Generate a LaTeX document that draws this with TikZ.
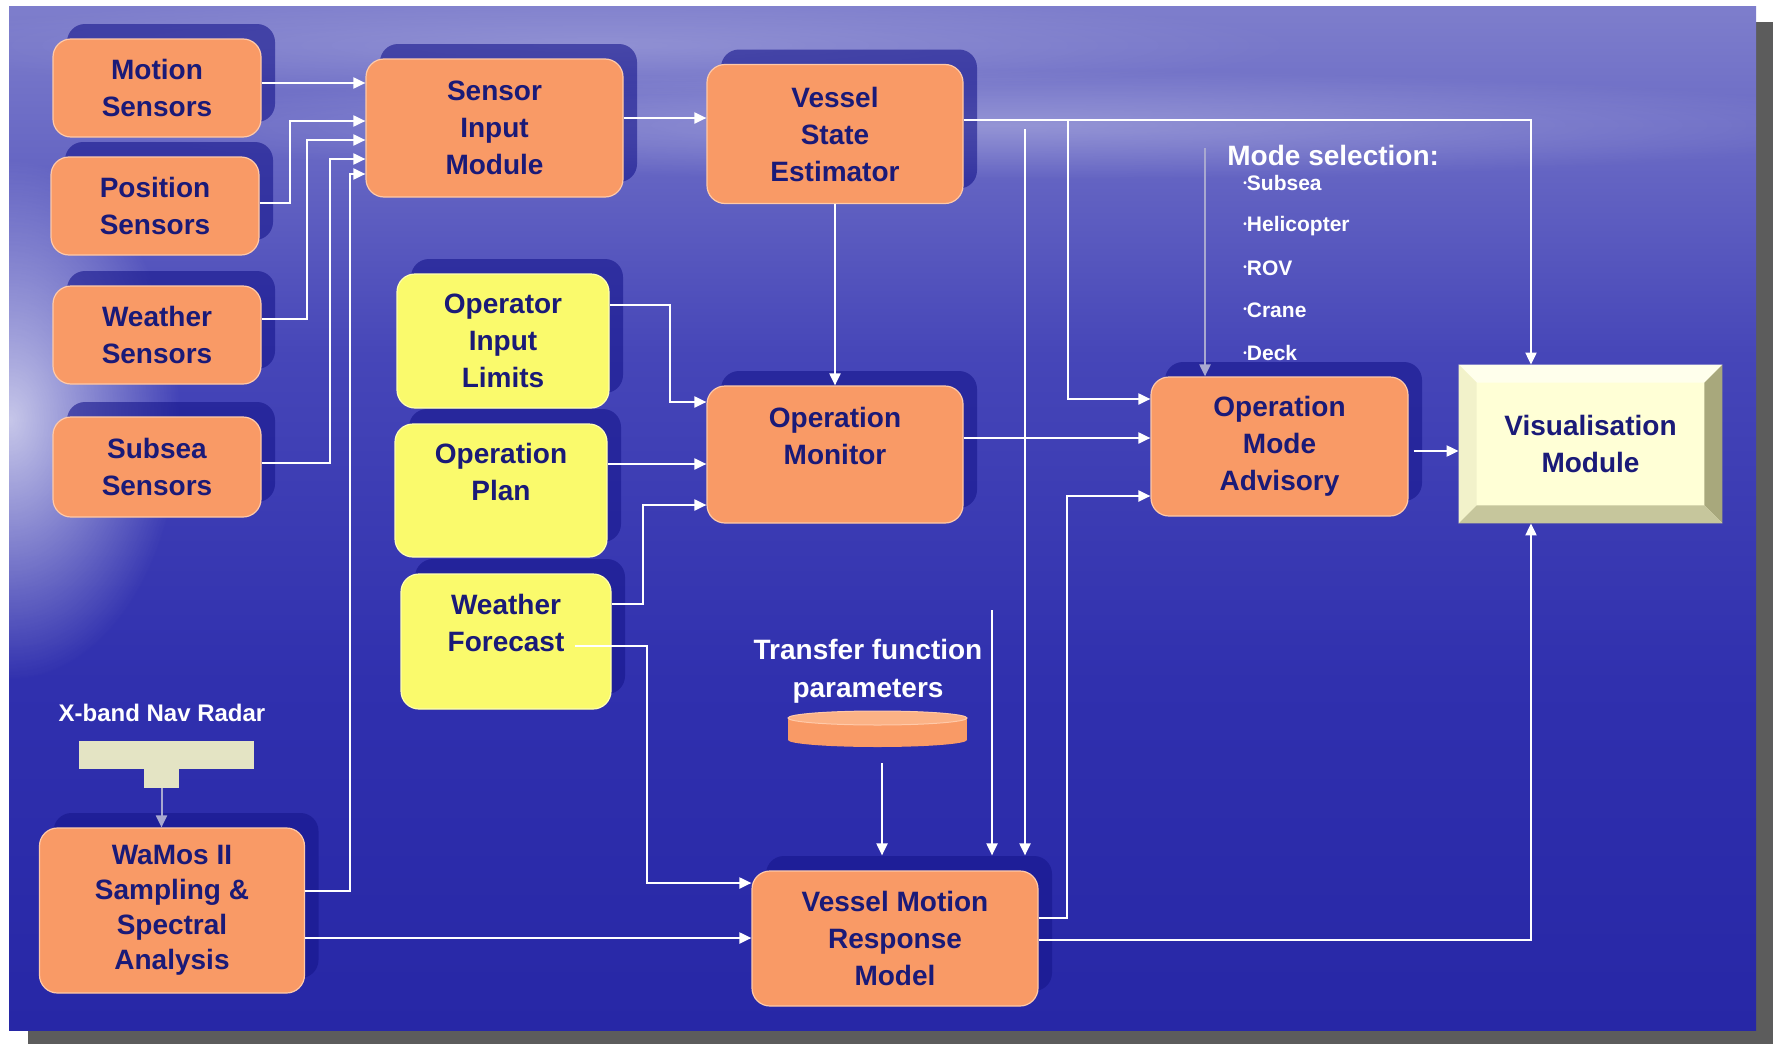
\documentclass[tikz,border=0pt]{standalone}
\usepackage{fontspec}
\setmainfont{Liberation Sans}
\usetikzlibrary{arrows.meta,shadows,fadings,calc}
\definecolor{boxor}{HTML}{F99A66}
\definecolor{boxedge}{HTML}{FFC9A8}
\definecolor{boxyel}{HTML}{FAFA6C}
\definecolor{yeledge}{HTML}{FFFFB0}
\definecolor{navytxt}{HTML}{1A1A78}
\definecolor{shblue}{HTML}{16168C}
\definecolor{bgA}{HTML}{2727A6}
\definecolor{bgB}{HTML}{3030AE}
\definecolor{bgC}{HTML}{4646B8}
\definecolor{bgD}{HTML}{6868C4}
\definecolor{bgE}{HTML}{7E7ECC}
\definecolor{framegray}{HTML}{5C5C5C}
\definecolor{visface}{HTML}{FFFFD6}
\definecolor{bevtop}{HTML}{FFFFEC}
\definecolor{bevleft}{HTML}{F2F2CA}
\definecolor{bevright}{HTML}{A8A87C}
\definecolor{bevbot}{HTML}{C6C69C}
\definecolor{radarcol}{HTML}{E4E4C4}
\definecolor{graylink}{HTML}{A8A8D0}
\definecolor{cyltop}{HTML}{FBB286}
\newcommand\nodefnt{\fontsize{14}{18.5}\selectfont\bfseries}
\newcommand\smallbul{\raisebox{2.2pt}{\fontsize{5}{5}\selectfont\textbullet}}
\tikzfading[name=softglow, inner color=transparent!0, outer color=transparent!100]
\pgfdeclareverticalshading{seabg}{100bp}{color(0bp)=(bgA); color(25bp)=(bgA); color(42bp)=(bgB); color(58bp)=(bgC); color(68bp)=(bgD); color(75bp)=(bgE); color(100bp)=(bgE)}
\begin{document}
\begin{tikzpicture}[x=0.5pt,y=-0.5pt,
  box/.style={draw=boxedge, line width=0.6pt, fill=boxor, rounded corners=9pt,
    text=navytxt, font=\nodefnt, align=center, inner sep=0pt,
    copy shadow={shadow xshift=7pt, shadow yshift=7.5pt, fill=shblue, draw=none, opacity=0.6}},
  ybox/.style={box, fill=boxyel, draw=yeledge},
  visbox/.style={fill=visface, text=navytxt, font=\nodefnt, align=center, inner sep=0pt},
  lbl/.style={text=white, font=\fontsize{14}{19}\selectfont\bfseries, align=center, inner sep=0pt},
  bul/.style={text=white, font=\fontsize{10.5}{12}\selectfont\bfseries, inner sep=0pt, anchor=west},
  link/.style={white, line width=1pt, -{Triangle[length=6pt,width=5.5pt]}},
  glink/.style={graylink, line width=1pt, -{Triangle[length=6pt,width=5.5pt]}}
]
\useasboundingbox (0,0) rectangle (1773,1044);
\fill[white] (0,0) rectangle (1773,1044);
% frame shadow and background
\fill[framegray] (28,22) rectangle (1773,1044);
\begin{scope}[y=0.5pt]
  \shade[shading=seabg] (9,-1030) rectangle (1756,-6);
\end{scope}
\begin{scope}
  \clip (9,6) rectangle (1756,1030);
  \fill[white, opacity=0.28, path fading=softglow] (1000,125) ellipse (900 and 55);
  \fill[white, opacity=0.18, path fading=softglow] (600,45) ellipse (700 and 50);
  \fill[white, opacity=0.7, path fading=softglow] (10,420) ellipse (170 and 260);
\end{scope}

% sensor boxes
\node[box, minimum width=104pt, minimum height=49pt] (motion) at (157,88) {Motion\\Sensors};
\node[box, minimum width=104pt, minimum height=49pt] (position) at (155,206) {Position\\Sensors};
\node[box, minimum width=104pt, minimum height=49pt] (weathers) at (157,335) {Weather\\Sensors};
\node[box, minimum width=104pt, minimum height=50pt] (subsea) at (157,467) {Subsea\\Sensors};
\node[box, minimum width=128.5pt, minimum height=69pt] (sim) at (494.5,128) {Sensor\\Input\\Module};
% yellow inputs
\node[ybox, minimum width=106pt, minimum height=67pt] (oil) at (503,341) {Operator\\Input\\Limits};
\node[ybox, minimum width=106pt, minimum height=66.5pt] (oplan) at (501,490.5) {Operation\\Plan\\\mbox{}};
\node[ybox, minimum width=105pt, minimum height=67.5pt] (wfc) at (506,641.5) {Weather\\Forecast\\\mbox{}};
% central blocks
\node[box, minimum width=128pt, minimum height=69.5pt] (vse) at (835,134) {Vessel\\State\\Estimator};
\node[box, minimum width=128pt, minimum height=68.5pt] (om) at (835,454.5) {Operation\\Monitor\\\mbox{}};
\node[box, minimum width=128.5pt, minimum height=69.5pt] (oma) at (1279.5,446.5) {Operation\\Mode\\Advisory};
\node[box, minimum width=143pt, minimum height=67.5pt] (vmrm) at (895,938.5) {Vessel Motion\\Response\\Model};
\node[box, minimum width=132.5pt, minimum height=82.5pt, font=\fontsize{14}{17.5}\selectfont\bfseries] (wamos) at (172,910.5) {WaMos II\\Sampling \&\\Spectral\\Analysis};

% visualisation module (bevelled)
\node[visbox, minimum width=131.5pt, minimum height=79pt] (vis) at (1590.5,444) {Visualisation\\Module};
\fill[bevtop] (vis.north west) -- (vis.north east) -- ($(vis.north east)+(-18,18)$) -- ($(vis.north west)+(18,18)$) -- cycle;
\fill[bevleft] (vis.north west) -- ($(vis.north west)+(18,18)$) -- ($(vis.south west)+(18,-18)$) -- (vis.south west) -- cycle;
\fill[bevright] (vis.north east) -- ($(vis.north east)+(-18,18)$) -- ($(vis.south east)+(-18,-18)$) -- (vis.south east) -- cycle;
\fill[bevbot] (vis.south west) -- ($(vis.south west)+(18,-18)$) -- ($(vis.south east)+(-18,-18)$) -- (vis.south east) -- cycle;

% radar
\node[lbl, font=\fontsize{12}{14}\selectfont\bfseries] (radarlbl) at (162,713) {X-band Nav Radar};
\node[fill=radarcol, minimum width=87.5pt, minimum height=14pt, inner sep=0pt] (radarbar) at (166.5,755) {};
\node[fill=radarcol, minimum width=17.5pt, minimum height=9.5pt, inner sep=0pt] (radarstem) at (161.5,778.5) {};

% transfer function parameters cylinder
\node[lbl] (tfp) at (868,671) {Transfer function\\parameters};
\node[inner sep=0pt, minimum width=89.5pt, minimum height=18pt] (cyl) at (877.5,729) {};
\fill[boxor] ($(cyl.west)+(0,-11)$) rectangle ($(cyl.east)+(0,11)$);
\fill[boxor] ($(cyl.center)+(0,11)$) ellipse (89.5 and 7);
\fill[cyltop, draw=boxedge, line width=0.5pt] ($(cyl.center)+(0,-11)$) ellipse (89.5 and 7);

% mode selection text
\node[lbl, anchor=west] (modesel) at (1227,155) {Mode selection:};
\node[bul] (m1) at (1243,183) {\smallbul Subsea};
\node[bul] (m2) at (1243,226) {\smallbul Helicopter};
\node[bul] (m3) at (1243,268) {\smallbul ROV};
\node[bul] (m4) at (1243,310) {\smallbul Crane};
\node[bul] (m5) at (1243,353) {\smallbul Deck};

\coordinate (vtop) at ($(vmrm.north)+(0,-15)$);
\coordinate (modestart) at (1205,148);
\coordinate (fromvse) at (1025,129);
\coordinate (extin) at (992,610);

% connectors into sensor input module
\draw[link] (motion.east |- 0,83) -- (sim.west |- 0,83);
\draw[link] (position.east |- 0,203) -- (290,203) -- (290,121) -- (sim.west |- 0,121);
\draw[link] (weathers.east |- 0,319) -- (307,319) -- (307,140) -- (sim.west |- 0,140);
\draw[link] (subsea.east |- 0,463) -- (330,463) -- (330,159) -- (sim.west |- 0,159);
\draw[link] (wamos.east |- 0,891) -- (350,891) -- (350,174) -- (sim.west |- 0,174);
% main chain
\draw[link] (sim.east |- 0,118) -- (vse.west |- 0,118);
\draw[link] (vse.south) -- (om.north);
\draw[link] (vse.east |- 0,120) -- (1531,120) -- (vis.north -| 1531,0);
\draw[link] (1068,120) -- (1068,399) -- (oma.west |- 0,399);
\draw[link] (fromvse) -- (vtop -| fromvse);
\draw[link] (extin) -- (vtop -| extin);
\draw[link] ($(cyl.south)+(4.5,16)$) -- (vtop -| 882,0);
\draw[link] (om.east |- 0,438) -- (oma.west |- 0,438);
\draw[link] ([xshift=2.5pt]oma.east |- 0,451) -- (vis.west |- 0,451);
\draw[glink] (modestart) -- (oma.north -| modestart);
\draw[link] (vmrm.east |- 0,940) -- (1531,940) -- (vis.south -| 1531,0);
\draw[link] (vmrm.east |- 0,918) -- (1067,918) -- (1067,496) -- (oma.west |- 0,496);
% operator inputs
\draw[link] (oil.east |- 0,305) -- (670,305) -- (670,402) -- (om.west |- 0,402);
\draw[link] (oplan.east |- 0,464) -- (om.west |- 0,464);
\draw[link] (wfc.east |- 0,604) -- (643,604) -- (643,505) -- (om.west |- 0,505);
\draw[link] ($(wfc.east |- 0,646)+(-37,0)$) -- (647,646) -- (647,883) -- (vmrm.west |- 0,883);
\draw[link] (wamos.east |- 0,938) -- (vmrm.west |- 0,938);
% radar to wamos
\draw[glink] (radarstem.south) -- (wamos.north -| radarstem.south);
\end{tikzpicture}
\end{document}
